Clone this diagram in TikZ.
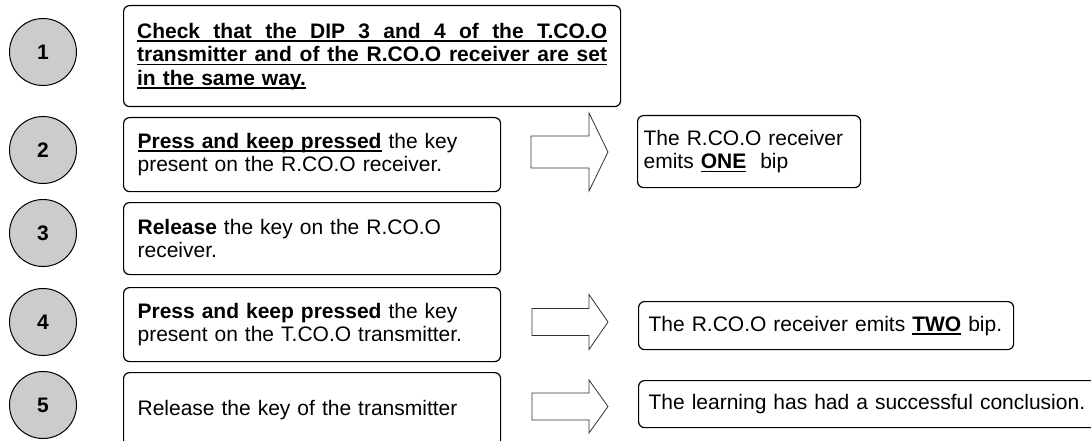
\documentclass[tikz,border=0pt]{standalone}
\usepackage{fontspec}
\setmainfont{Liberation Sans}
\usepackage{xcolor}
\hyphenpenalty=10000
\newcommand{\undr}[1]{\leavevmode\setbox0\hbox{#1}\rlap{\rule[-3.5pt]{\wd0}{1.3pt}}\box0\relax}
\newcommand{\fullline}[1]{\hbox to 470pt{\spaceskip=.278em plus 1fil\relax #1}}

\begin{document}
\begin{tikzpicture}[x=1pt,y=-1pt,
  stepnum/.style={circle,draw,line width=1pt,fill=black!20,minimum size=67pt,inner sep=0pt,font=\fontsize{21}{24}\selectfont\bfseries},
  stepbox/.style={draw,line width=1.2pt,rounded corners=6pt,anchor=north west,minimum width=377pt,minimum height=74pt,text width=349pt,inner xsep=14pt,align=left,font=\fontsize{21}{23.5}\selectfont},
  resbox/.style={draw,line width=1.2pt,rounded corners=6pt,anchor=north west,inner xsep=10pt,align=left,font=\fontsize{21}{23.5}\selectfont},
  blockarrow/.style={draw=black!80,line width=0.8pt}]
\useasboundingbox (0,0) rectangle (1091,441);
\clip (0,0) rectangle (1091,441);
\foreach \n/\cy in {1/52,2/150,3/233,4/322,5/405}{
\node[stepnum] (num\n) at (43,\cy) {\n};
}
\node[stepbox,minimum width=497pt,minimum height=101pt,text width=470pt,inner xsep=13.5pt,font=\fontsize{21}{23.5}\selectfont\bfseries] (step1) at (123,5)
  {\undr{\fullline{Check that the DIP 3 and 4 of the T.CO.O}}\\
   \undr{\fullline{transmitter and of the R.CO.O receiver are set}}\\
   \undr{in the same way.}};
\node[stepbox] (step2) at (123,117) {\undr{\textbf{Press and keep pressed}} the key present on the R.CO.O receiver.};
\node[stepbox,minimum height=72pt] (step3) at (123,202) {\textbf{Release} the key on the R.CO.O receiver.};
\node[stepbox] (step4) at (123,287) {\textbf{Press and keep pressed} the key present on the T.CO.O transmitter.};
\node[stepbox] (step5) at (123,372) {Release the key of the transmitter};
\foreach \ax/\ay/\sh/\hh in {531/152/16/39,532/322/13.5/27.5,532/406.5/13.5/26.5}{
\draw[blockarrow] (\ax,\ay-\sh) -- (589,\ay-\sh) -- (589,\ay-\hh) -- (608,\ay) -- (589,\ay+\hh) -- (589,\ay+\sh) -- (\ax,\ay+\sh) -- cycle;
}
\node[resbox,text width=211pt,inner xsep=6pt,minimum height=72pt] (res2) at (637,115) {The R.CO.O receiver\\emits \undr{\textbf{ONE}}\ \ bip};
\node[resbox,text width=355pt,minimum height=48pt] (res4) at (638,301) {The R.CO.O receiver emits \undr{\textbf{TWO}} bip.};
\node[resbox,text width=470pt,minimum height=47pt] (res5) at (638,380) {The learning has had a successful conclusion.};
\end{tikzpicture}
\end{document}
